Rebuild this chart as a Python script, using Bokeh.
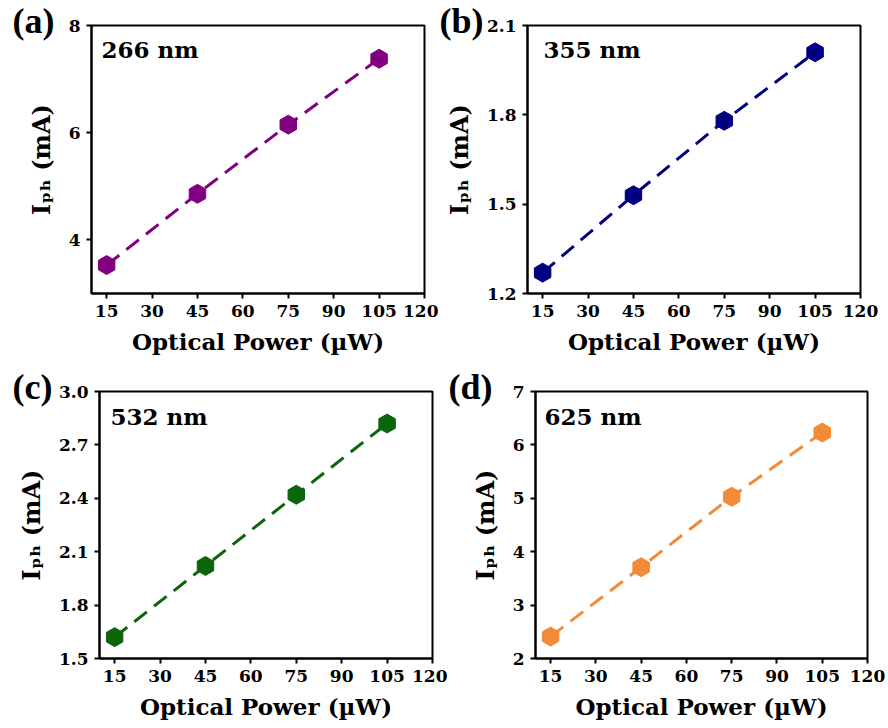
import numpy as np
from bokeh.plotting import figure
from bokeh.models import FixedTicker, Label, Range1d, PrintfTickFormatter, Title
from bokeh.layouts import column, row
from bokeh.embed import file_html
from bokeh.resources import INLINE

# ---------------- data ----------------
power_uW = [15, 45, 75, 105]
iph_266 = [3.53, 4.86, 6.15, 7.38]
iph_355 = [1.27, 1.53, 1.78, 2.01]
iph_532 = [1.62, 2.02, 2.42, 2.82]
iph_625 = [2.41, 3.71, 5.03, 6.23]

x_ticks = [15, 30, 45, 60, 75, 90, 105, 120]
y_ticks_266 = [4, 6, 8]
y_ticks_355 = [1.2, 1.5, 1.8, 2.1]
y_ticks_532 = [1.5, 1.8, 2.1, 2.4, 2.7, 3.0]
y_ticks_625 = [2, 3, 4, 5, 6, 7]

FONT = "DejaVu Serif"


def make_panel(xs, ys, color, yr, yticks, yfmt, width, height, borders,
               letter, letter_off, letter_lh, wl, wl_pos, ylab_standoff):
    bl, br, bt, bb = borders
    p = figure(width=width, height=height, x_range=Range1d(10, 120),
               y_range=Range1d(*yr), output_backend="svg", toolbar_location=None,
               min_border_left=bl, min_border_right=br, min_border_top=bt,
               min_border_bottom=bb)
    p.grid.visible = False
    p.background_fill_color = "white"
    p.border_fill_color = "white"
    p.outline_line_color = "black"
    p.outline_line_width = 2
    p.outline_line_alpha = 1

    p.xaxis.ticker = FixedTicker(ticks=x_ticks)
    p.yaxis.ticker = FixedTicker(ticks=yticks)
    p.yaxis.formatter = PrintfTickFormatter(format=yfmt)
    for ax in (p.xaxis[0], p.yaxis[0]):
        ax.axis_line_width = 2
        ax.axis_line_color = "black"
        ax.major_tick_line_width = 2
        ax.major_tick_line_color = "black"
        ax.major_tick_out = 5
        ax.major_tick_in = 0
        ax.minor_tick_out = 0
        ax.minor_tick_in = 0
        ax.major_label_text_font = FONT
        ax.major_label_text_font_style = "bold"
        ax.major_label_text_font_size = "17px"
        ax.major_label_text_color = "black"
        ax.major_label_standoff = 6
        ax.axis_label_text_font = FONT
        ax.axis_label_text_font_style = "bold"
        ax.axis_label_text_color = "black"
    p.xaxis.axis_label = "Optical Power (µW)"
    p.xaxis.axis_label_text_font_size = "23px"
    p.xaxis.axis_label_standoff = 8
    p.yaxis.axis_label = "Iₚₕ (mA)"
    p.yaxis.axis_label_text_font_size = "24px"
    p.yaxis.axis_label_standoff = ylab_standoff

    p.line(xs, ys, line_color=color, line_width=3, line_dash="16 9")
    p.scatter(xs, ys, marker="hex", size=19, angle=np.pi / 6,
              fill_color=color, line_color=color)

    # panel letter, placed above the frame
    p.add_layout(Title(text=letter, align="left", offset=letter_off, standoff=-30,
                       text_line_height=letter_lh,
                       text_font="Liberation Serif", text_font_style="bold",
                       text_font_size="36px", text_color="black"), "above")
    # wavelength
    p.add_layout(Label(x=wl_pos[0], y=wl_pos[1], x_units="screen", y_units="screen",
                       text=wl, text_font=FONT, text_font_style="bold",
                       text_font_size="23px", text_color="black",
                       text_align="left", text_baseline="alphabetic"))
    return p


pa = make_panel(power_uW, iph_266, "#800080", (3, 8), y_ticks_266, "%d",
                438, 364, (91, 14, 25, 71), "(a)", -79, 1.4, "266 nm", (10, 244), 10)
pb = make_panel(power_uW, iph_355, "#000080", (1.2, 2.1), y_ticks_355, "%.1f",
                450, 364, (89, 28, 25, 71), "(b)", -88, 1.4, "355 nm", (16, 244), 10)
pc = make_panel(power_uW, iph_532, "#0B660B", (1.5, 3.0), y_ticks_532, "%.1f",
                447, 364, (99, 15, 27, 70), "(c)", -87, 1.2, "532 nm", (11, 242), 10)
pd = make_panel(power_uW, iph_625, "#F28A36", (2, 7), y_ticks_625, "%d",
                441, 364, (88, 21, 27, 70), "(d)", -87, 1.3, "625 nm", (9, 242), 10)

layout = column(row(pa, pb), row(pc, pd))
open("out.html", "w").write(file_html(layout, INLINE))
